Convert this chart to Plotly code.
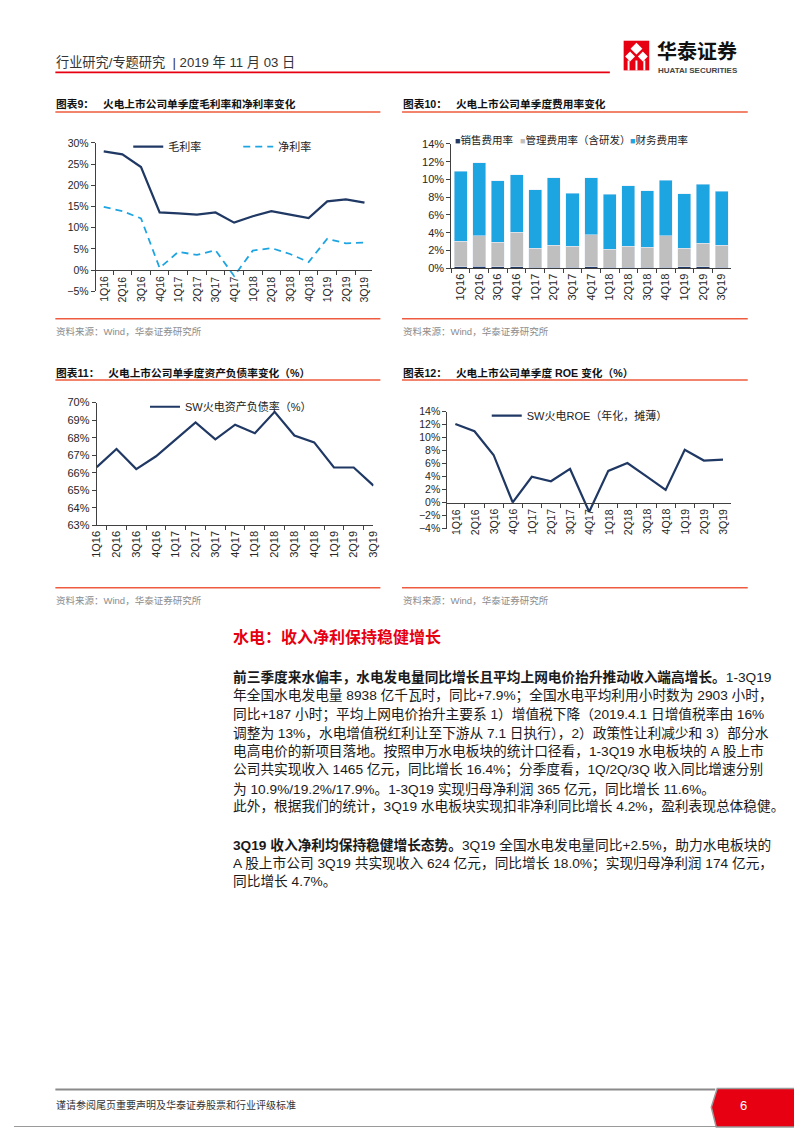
import plotly.graph_objects as go

# the page body keeps an 8px margin, so the figure is 8px smaller and page
# coordinates are shifted by that margin
OFF = 8
W, H = 802 - OFF, 1133 - OFF

quarters = ["1Q16", "2Q16", "3Q16", "4Q16", "1Q17", "2Q17", "3Q17", "4Q17",
            "1Q18", "2Q18", "3Q18", "4Q18", "1Q19", "2Q19", "3Q19"]

# 图表9 毛利率 / 净利率 (%)
gross_margin = [28.0, 27.3, 24.3, 13.6, 13.4, 13.1, 13.6, 11.2, 12.7, 13.9, 13.1, 12.3, 16.2, 16.7, 15.9]
net_margin = [14.9, 13.9, 12.2, 0.5, 4.3, 3.6, 4.7, -1.4, 4.6, 5.2, 3.8, 1.9, 7.4, 6.3, 6.5]

# 图表10 费用率 (%)
selling_rate = [0.15, 0.20, 0.15, 0.15, 0.10, 0.10, 0.10, 0.15, 0.10, 0.10, 0.12, 0.12, 0.15, 0.15, 0.10]
admin_rate = [2.89, 3.48, 2.75, 3.90, 2.13, 2.50, 2.39, 3.60, 2.02, 2.35, 2.22, 3.56, 2.08, 2.67, 2.50]
finance_rate = [7.88, 8.20, 6.94, 6.50, 6.61, 7.57, 5.98, 6.42, 6.20, 6.83, 6.39, 6.23, 6.13, 6.61, 6.05]

# 图表11 资产负债率 (%)
debt_ratio = [66.32, 67.35, 66.21, 66.94, 67.90, 68.87, 67.90, 68.74, 68.25, 69.47, 68.12, 67.73, 66.30, 66.30, 65.27]

# 图表12 ROE (%)
roe = [12.12, 11.0, 7.35, 0.05, 4.0, 3.3, 5.2, -1.4, 4.9, 6.1, 4.05, 1.98, 8.16, 6.49, 6.64]

NAVY = "#1F3864"
LBLUE = "#1DA5E2"
GRAY = "#BFBFBF"
RED = "#E60012"
CORAL = "#EE5B3E"
AXIS = "#404040"
FONT = "Liberation Sans, Noto Sans CJK SC"


def fx(x):
    return (x - OFF) / W


def fy(y):
    return 1 - (y - OFF) / H


fig = go.Figure()

fig.add_trace(go.Scatter(x=quarters, y=gross_margin, name="毛利率", mode="lines",
                         line=dict(color=NAVY, width=2.2), xaxis="x", yaxis="y", legend="legend"))
fig.add_trace(go.Scatter(x=quarters, y=net_margin, name="净利率", mode="lines",
                         line=dict(color=LBLUE, width=1.8, dash="7px,5px"),
                         xaxis="x", yaxis="y", legend="legend"))

fig.add_trace(go.Bar(x=quarters, y=selling_rate, name="销售费用率", marker_color=NAVY,
                     xaxis="x2", yaxis="y2", showlegend=False))
fig.add_trace(go.Bar(x=quarters, y=admin_rate, name="管理费用率（含研发）", marker_color=GRAY,
                     xaxis="x2", yaxis="y2", showlegend=False))
fig.add_trace(go.Bar(x=quarters, y=finance_rate, name="财务费用率", marker_color=LBLUE,
                     xaxis="x2", yaxis="y2", showlegend=False))

fig.add_trace(go.Scatter(x=quarters, y=debt_ratio, name="SW火电资产负债率（%）", mode="lines",
                         line=dict(color=NAVY, width=2.2), xaxis="x3", yaxis="y3", legend="legend2"))
fig.add_trace(go.Scatter(x=quarters, y=roe, name="SW火电ROE（年化，摊薄）", mode="lines",
                         line=dict(color=NAVY, width=2.2), xaxis="x4", yaxis="y4", legend="legend3"))

# plot boxes in page pixels: (left, right, top, bottom), y range, dtick
boxes = {
    "1": (91, 372, 138.3, 288.3, [-5, 30], 5),
    "2": (452, 736, 139.3, 265, [0, 14], 2),
    "3": (92, 373, 400.7, 525, [63, 70], 1),
    "4": (448, 736, 410, 528.3, [-4, 14], 2),
}
tick_sizes = {"1": 10.5, "2": 11, "3": 11, "4": 10.5}

annotations = []
layout_axes = {}
for k, (l, r, t, b, rng, dt) in boxes.items():
    xa = "xaxis" if k == "1" else "xaxis" + k
    ya = "yaxis" if k == "1" else "yaxis" + k
    yid = "y" if k == "1" else "y" + k
    xid = "x" if k == "1" else "x" + k
    ydom = [fy(b), fy(t)]
    xaxis = dict(domain=[fx(l), fx(r)], type="category", showline=True, linecolor=AXIS,
                 linewidth=1, ticks="outside", tickson="boundaries", ticklen=4,
                 tickcolor=AXIS, tickangle=-90, showgrid=False, zeroline=False,
                 tickfont=dict(size=tick_sizes[k], color="#262626"), fixedrange=True)
    if rng[0] < 0:
        # category axis crosses at 0, labels sit right under it
        pos = ydom[0] + (0 - rng[0]) / (rng[1] - rng[0]) * (ydom[1] - ydom[0])
        xaxis.update(anchor="free", position=pos, showticklabels=False)
        for q in quarters:
            annotations.append(dict(xref=xid, yref=yid, x=q, y=0, text=q, textangle=-90,
                                    showarrow=False, xanchor="center", yanchor="top",
                                    yshift=-4,
                                    font=dict(size=tick_sizes[k], color="#262626", family=FONT)))
    else:
        xaxis.update(anchor=yid)
    yaxis = dict(domain=ydom, anchor=xid, range=rng, dtick=dt, ticksuffix="%",
                 showline=True, linecolor=AXIS, linewidth=1, ticks="outside", ticklen=4,
                 tickcolor=AXIS, showgrid=False, zeroline=False,
                 tickfont=dict(size=tick_sizes[k], color="#262626"), fixedrange=True)
    layout_axes[xa] = xaxis
    layout_axes[ya] = yaxis

fig.update_layout(**layout_axes)

legend_common = dict(orientation="h", bgcolor="rgba(0,0,0,0)", xanchor="left",
                     yanchor="middle", font=dict(size=11, color="#222", family=FONT),
                     itemwidth=30, tracegroupgap=0, traceorder="normal")
fig.update_layout(
    legend=dict(legend_common, x=fx(124), y=fy(142), entrywidth=65),
    legend2=dict(legend_common, x=fx(141), y=fy(405)),
    legend3=dict(legend_common, x=fx(488), y=fy(414)),
)

shapes = []


def hline(x0, x1, y, color, width):
    shapes.append(dict(type="line", xref="paper", yref="paper", x0=fx(x0), x1=fx(x1),
                       y0=fy(y), y1=fy(y), line=dict(color=color, width=width)))


def text(x, y, s, size, color="#222", anchor="left", **kw):
    annotations.append(dict(xref="paper", yref="paper", x=fx(x), y=fy(y), text=s,
                            showarrow=False, xanchor=anchor, yanchor="middle",
                            font=dict(size=size, color=color, family=FONT), **kw))


# page frame (right and bottom edges)
shapes.append(dict(type="line", xref="paper", yref="paper", x0=fx(800.5), x1=fx(800.5),
                   y0=fy(1133), y1=fy(8), line=dict(color="#9a9a9a", width=1)))
shapes.append(dict(type="line", xref="paper", yref="paper", x0=fx(8), x1=fx(801),
                   y0=fy(1132.5), y1=fy(1132.5), line=dict(color="#9a9a9a", width=1)))

# header
text(49, 57, "行业研究/专题研究  | 2019 年 11 月 03 日", 13.2, "#333")
hline(50, 613, 67, RED, 1.6)
shapes.append(dict(type="rect", xref="paper", yref="paper", x0=fx(627), x1=fx(653),
                   y0=fy(65), y1=fy(35), line_width=0, fillcolor=RED))
for cx, cy, hw in [(640, 43, 6), (633.5, 51, 5), (646.5, 51, 5)]:
    shapes.append(dict(type="path", xref="paper", yref="paper", line_width=0, fillcolor="white",
                       path=f"M{fx(cx)},{fy(cy - hw)} L{fx(cx + hw)},{fy(cy)} L{fx(cx)},{fy(cy + hw)} L{fx(cx - hw)},{fy(cy)} Z"))
for x0 in [631, 639, 647]:
    shapes.append(dict(type="rect", xref="paper", yref="paper", x0=fx(x0), x1=fx(x0 + 2),
                       y0=fy(65), y1=fy(55), line_width=0, fillcolor="white"))
text(659, 46, "<b>华泰证券</b>", 20, "#111")
text(660, 65, "<b>HUATAI SECURITIES</b>", 8, "#444")

# chart titles, rules, sources
titles = [
    (49, 99, "<b>图表9：</b>   <b>火电上市公司单季度毛利率和净利率变化</b>"),
    (401, 99, "<b>图表10：</b>   <b>火电上市公司单季度费用率变化</b>"),
    (49, 371, "<b>图表11：</b>   <b>火电上市公司单季度资产负债率变化（%）</b>"),
    (401, 371, "<b>图表12：</b>   <b>火电上市公司单季度 ROE 变化（%）</b>"),
]
for x, y, s in titles:
    text(x, y, s, 10.7, "#111")
for x0, x1 in [(50, 380), (402, 753)]:
    hline(x0, x1, 107, CORAL, 1.5)
    hline(x0, x1, 378, CORAL, 1.5)
    hline(x0, x1, 316, CORAL, 1.5)
    hline(x0, x1, 588, CORAL, 1.5)
    text(x0 - 1, 329, "资料来源：Wind，华泰证券研究所", 9.5, "#8c8c8c")
    text(x0 - 1, 601, "资料来源：Wind，华泰证券研究所", 9.5, "#8c8c8c")

# chart 10 legend
for x, color, label in [(454, NAVY, "销售费用率"), (520, GRAY, "管理费用率（含研发）"),
                        (631, LBLUE, "财务费用率")]:
    text(x, 135, f'<span style="color:{color};font-size:9px">■</span>{label}', 10.5, "#222")

# body text
text(228, 638, "<b>水电：收入净利保持稳健增长</b>", 16, RED)
body = [
    (678, "<b>前三季度来水偏丰，水电发电量同比增长且平均上网电价抬升推动收入端高增长。</b>1-3Q19"),
    (697, "年全国水电发电量 8938 亿千瓦时，同比+7.9%；全国水电平均利用小时数为 2903 小时，"),
    (716, "同比+187 小时；平均上网电价抬升主要系 1）增值税下降（2019.4.1 日增值税率由 16%"),
    (735, "调整为 13%，水电增值税红利让至下游从 7.1 日执行），2）政策性让利减少和 3）部分水"),
    (753, "电高电价的新项目落地。按照申万水电板块的统计口径看，1-3Q19 水电板块的 A 股上市"),
    (772, "公司共实现收入 1465 亿元，同比增长 16.4%；分季度看，1Q/2Q/3Q 收入同比增速分别"),
    (791, "为 10.9%/19.2%/17.9%。1-3Q19 实现归母净利润 365 亿元，同比增长 11.6%。"),
    (809, "此外，根据我们的统计，3Q19 水电板块实现扣非净利同比增长 4.2%，盈利表现总体稳健。"),
    (848, "<b>3Q19 收入净利均保持稳健增长态势。</b>3Q19 全国水电发电量同比+2.5%，助力水电板块的"),
    (867, "A 股上市公司 3Q19 共实现收入 624 亿元，同比增长 18.0%；实现归母净利润 174 亿元，"),
    (885, "同比增长 4.7%。"),
]
for y, s in body:
    text(228, y, s, 13.7, "#1a1a1a")

# footer
hline(50, 720, 1095, "#8a8a8a", 2)
shapes.append(dict(type="path", xref="paper", yref="paper", line=dict(color="#9a9a9a", width=1.5),
                   fillcolor=RED,
                   path=f"M{fx(722)},{fy(1094)} L{fx(802)},{fy(1094)} L{fx(802)},{fy(1133)} "
                        f"L{fx(721)},{fy(1133)} L{fx(716)},{fy(1113)} Z"))
text(49, 1111, "谨请参阅尾页重要声明及华泰证券股票和行业评级标准", 10, "#333")
text(749, 1111, "6", 13, "white", anchor="center")

fig.update_layout(
    width=W, height=H, autosize=False,
    margin=dict(l=0, r=0, t=0, b=0),
    paper_bgcolor="white", plot_bgcolor="white",
    font=dict(family=FONT, color="#222"),
    barmode="stack", bargap=0.3,
    shapes=shapes, annotations=annotations,
    hovermode=False,
)

fig.write_html("out.html")
